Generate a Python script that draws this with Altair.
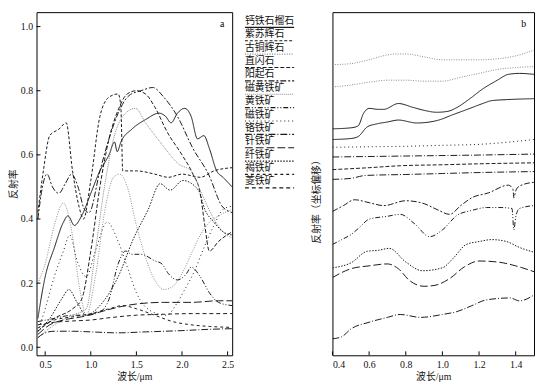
import altair as alt
import pandas as pd

# ---------------- legend / minerals ----------------
MINERALS = ["钙铁石榴石", "紫苏辉石", "古铜辉石", "直闪石", "阳起石", "磁黄铁矿",
            "黄铁矿", "磁铁矿", "铬铁矿", "针铁矿", "纤铁矿", "褐铁矿", "菱铁矿"]
MINERAL_STYLE = ["solid", "short", "finedot", "dash", "longshort", "densedot",
                 "dashdotdot", "sparsedot", "dashdotlong", "longdash", "dot", "sparsedash", "bolddash"]

DASH = {
    "solid": [1, 0], "short": [3, 2], "finedot": [1, 1.5], "dash": [4, 2],
    "longshort": [6, 2, 2, 2], "densedot": [1, 1], "dashdotdot": [5, 2, 1, 2, 1, 2],
    "sparsedot": [1, 3], "dashdotlong": [7, 2, 1, 2], "longdash": [8, 3],
    "dot": [1.5, 1.5], "sparsedash": [3, 3], "bolddash": [4, 3],
}
GREY_STYLES = {"finedot", "densedot"}

# ---------------- panel a (reflectance vs wavelength) ----------------
A_WL = {
    "钙铁石榴石": [0.42, 0.5, 0.6, 0.7, 0.75, 0.82, 0.9, 1.0, 1.1, 1.2, 1.26, 1.29, 1.33, 1.45, 1.6, 1.75, 1.82, 1.88, 1.95, 2.03, 2.1, 2.17, 2.24, 2.3, 2.38, 2.45, 2.55],
    "紫苏辉石": [0.42, 0.48, 0.55, 0.65, 0.73, 0.8, 0.87, 0.92, 1.0, 1.1, 1.2, 1.3, 1.33, 1.35, 1.5, 1.7, 1.85, 2.0, 2.2, 2.35, 2.55],
    "古铜辉石": [0.42, 0.5, 0.6, 0.7, 0.78, 0.88, 0.95, 1.05, 1.15, 1.25, 1.32, 1.4, 1.5, 1.6, 1.7, 1.8, 1.9, 2.0, 2.1, 2.2, 2.3, 2.4, 2.55],
    "直闪石": [0.42, 0.6, 0.8, 0.9, 1.0, 1.1, 1.2, 1.3, 1.4, 1.5, 1.6, 1.7, 1.84, 2.0, 2.12, 2.2, 2.25, 2.3, 2.4, 2.55],
    "阳起石": [0.42, 0.47, 0.52, 0.58, 0.65, 0.72, 0.79, 0.86, 0.93, 0.98, 1.1, 1.2, 1.3, 1.42, 1.55, 1.68, 1.8, 1.95, 2.12, 2.29, 2.44, 2.55],
    "磁黄铁矿": [0.42, 0.6, 0.8, 0.95, 1.05, 1.15, 1.25, 1.35, 1.49, 1.6, 1.76, 1.97, 2.1, 2.23, 2.35, 2.45, 2.55],
    "黄铁矿": [0.42, 0.6, 0.8, 0.95, 1.1, 1.2, 1.3, 1.38, 1.45, 1.55, 1.7, 1.78, 1.85, 1.95, 2.05, 2.1, 2.2, 2.3, 2.4, 2.55],
    "磁铁矿": [0.42, 0.5, 0.6, 0.7, 0.77, 0.85, 0.95, 1.05, 1.18, 1.3, 1.4, 1.5, 1.68, 1.83, 1.95, 2.03, 2.14, 2.24, 2.35, 2.45, 2.55],
    "铬铁矿": [0.42, 0.5, 0.6, 0.8, 1.0, 1.3, 1.6, 2.0, 2.3, 2.55],
    "针铁矿": [0.42, 0.55, 0.7, 0.9, 1.1, 1.3, 1.5, 1.8, 2.1, 2.4, 2.55],
    "纤铁矿": [0.42, 0.55, 0.68, 0.76, 0.85, 0.95, 1.1, 1.3, 1.47, 1.63, 1.76, 1.87, 2.01, 2.18, 2.25, 2.35, 2.45, 2.55],
    "褐铁矿": [0.42, 0.6, 0.8, 1.0, 1.2, 1.35, 1.5, 1.7, 1.9, 2.1, 2.3, 2.55],
    "菱铁矿": [0.42, 0.6, 0.8, 1.0, 1.2, 1.5, 1.8, 2.1, 2.55],
}
A_R = {
    "钙铁石榴石": [0.09, 0.22, 0.31, 0.39, 0.41, 0.38, 0.41, 0.48, 0.55, 0.60, 0.64, 0.61, 0.64, 0.68, 0.71, 0.73, 0.72, 0.70, 0.73, 0.745, 0.72, 0.65, 0.66, 0.62, 0.55, 0.53, 0.50],
    "紫苏辉石": [0.42, 0.55, 0.66, 0.68, 0.70, 0.55, 0.44, 0.40, 0.52, 0.72, 0.78, 0.79, 0.75, 0.55, 0.55, 0.54, 0.53, 0.54, 0.53, 0.55, 0.56],
    "古铜辉石": [0.20, 0.26, 0.38, 0.45, 0.38, 0.18, 0.10, 0.22, 0.42, 0.53, 0.54, 0.50, 0.38, 0.28, 0.21, 0.18, 0.19, 0.23, 0.29, 0.35, 0.39, 0.41, 0.43],
    "直闪石": [0.05, 0.09, 0.12, 0.15, 0.30, 0.50, 0.65, 0.74, 0.79, 0.80, 0.79, 0.75, 0.67, 0.60, 0.54, 0.48, 0.38, 0.30, 0.33, 0.36],
    "阳起石": [0.40, 0.50, 0.54, 0.50, 0.48, 0.51, 0.54, 0.50, 0.43, 0.42, 0.55, 0.65, 0.73, 0.785, 0.80, 0.81, 0.78, 0.72, 0.62, 0.54, 0.44, 0.42],
    "磁黄铁矿": [0.03, 0.07, 0.10, 0.12, 0.30, 0.50, 0.65, 0.72, 0.745, 0.70, 0.64, 0.57, 0.55, 0.47, 0.40, 0.36, 0.34],
    "黄铁矿": [0.08, 0.09, 0.10, 0.10, 0.11, 0.15, 0.26, 0.30, 0.29, 0.29, 0.27, 0.26, 0.23, 0.21, 0.23, 0.25, 0.22, 0.17, 0.14, 0.13],
    "磁铁矿": [0.05, 0.12, 0.22, 0.30, 0.35, 0.27, 0.22, 0.30, 0.39, 0.33, 0.25, 0.17, 0.11, 0.10, 0.14, 0.18, 0.24, 0.31, 0.38, 0.43, 0.44],
    "铬铁矿": [0.03, 0.045, 0.05, 0.05, 0.048, 0.045, 0.048, 0.052, 0.056, 0.058],
    "针铁矿": [0.04, 0.07, 0.085, 0.095, 0.11, 0.125, 0.135, 0.14, 0.14, 0.145, 0.145],
    "纤铁矿": [0.05, 0.09, 0.15, 0.18, 0.14, 0.10, 0.13, 0.22, 0.34, 0.43, 0.51, 0.49, 0.52, 0.49, 0.43, 0.39, 0.36, 0.35],
    "褐铁矿": [0.06, 0.085, 0.095, 0.105, 0.12, 0.13, 0.12, 0.10, 0.08, 0.07, 0.065, 0.062],
    "菱铁矿": [0.07, 0.078, 0.082, 0.085, 0.092, 0.10, 0.103, 0.105, 0.105],
}

# ---------------- panel b (offset reflectance) ----------------
B_KEYS = ["b1", "b2", "b3", "b4", "b5", "b6", "b7", "b8", "b9", "b10", "b11", "b12", "b13"]
B_STYLE = ["finedot", "finedot", "solid", "solid", "sparsedot", "dashdotlong", "dash",
           "dashdotlong", "longshort", "dashdotdot", "dot", "longdash", "dashdotlong"]
B_WL = {
    "b1": [0.4, 0.5, 0.6, 0.7, 0.75, 0.8, 0.9, 1.0, 1.1, 1.2, 1.3, 1.4, 1.5],
    "b2": [0.4, 0.5, 0.6, 0.7, 0.8, 0.9, 1.0, 1.1, 1.2, 1.3, 1.4, 1.5],
    "b3": [0.4, 0.5, 0.54, 0.57, 0.6, 0.65, 0.68, 0.76, 0.84, 0.9, 0.97, 1.03, 1.08, 1.15, 1.22, 1.3, 1.36, 1.42, 1.5],
    "b4": [0.4, 0.5, 0.54, 0.59, 0.64, 0.7, 0.76, 0.86, 0.93, 0.98, 1.05, 1.15, 1.22, 1.27, 1.35, 1.5],
    "b5": [0.4, 0.6, 0.8, 1.0, 1.2, 1.4, 1.5],
    "b6": [0.4, 0.8, 1.2, 1.5],
    "b7": [0.4, 0.6, 0.77, 1.0, 1.2, 1.5],
    "b8": [0.4, 0.5, 0.58, 0.8, 1.0, 1.2, 1.5],
    "b9": [0.4, 0.46, 0.52, 0.6, 0.68, 0.8, 0.9, 0.97, 1.04, 1.1, 1.16, 1.25, 1.36, 1.385, 1.39, 1.4, 1.42, 1.5],
    "b10": [0.4, 0.45, 0.5, 0.55, 0.6, 0.7, 0.77, 0.85, 0.93, 1.0, 1.08, 1.16, 1.24, 1.32, 1.38, 1.39, 1.4, 1.42, 1.5],
    "b11": [0.4, 0.5, 0.59, 0.65, 0.71, 0.8, 0.89, 1.0, 1.06, 1.13, 1.2, 1.27, 1.35, 1.42, 1.5],
    "b12": [0.4, 0.5, 0.6, 0.7, 0.76, 0.82, 0.9, 0.96, 1.04, 1.12, 1.2, 1.3, 1.4, 1.5],
    "b13": [0.4, 0.45, 0.5, 0.6, 0.7, 0.77, 0.88, 1.0, 1.08, 1.16, 1.24, 1.37, 1.42, 1.5],
}
B_R = {
    "b1": [2.99, 3.00, 3.04, 3.09, 3.10, 3.10, 3.07, 3.04, 3.04, 3.04, 3.05, 3.08, 3.14],
    "b2": [2.76, 2.78, 2.81, 2.83, 2.83, 2.82, 2.82, 2.86, 2.90, 2.94, 2.96, 2.97],
    "b3": [2.33, 2.34, 2.36, 2.49, 2.54, 2.53, 2.53, 2.59, 2.55, 2.52, 2.50, 2.51, 2.55, 2.64, 2.74, 2.83, 2.89, 2.90, 2.89],
    "b4": [2.22, 2.23, 2.25, 2.35, 2.38, 2.40, 2.42, 2.39, 2.40, 2.42, 2.47, 2.54, 2.59, 2.62, 2.63, 2.64],
    "b5": [2.14, 2.145, 2.15, 2.16, 2.17, 2.20, 2.22],
    "b6": [2.04, 2.05, 2.06, 2.07],
    "b7": [1.91, 1.93, 1.95, 1.96, 1.97, 1.98],
    "b8": [1.81, 1.82, 1.85, 1.86, 1.87, 1.88, 1.89],
    "b9": [1.48, 1.54, 1.60, 1.57, 1.54, 1.59, 1.56, 1.50, 1.45, 1.54, 1.62, 1.67, 1.75, 1.71, 1.62, 1.69, 1.74, 1.78],
    "b10": [1.14, 1.19, 1.24, 1.32, 1.40, 1.43, 1.45, 1.35, 1.22, 1.29, 1.44, 1.49, 1.52, 1.52, 1.51, 1.29, 1.42, 1.51, 1.54],
    "b11": [0.90, 0.95, 1.07, 1.08, 1.10, 0.96, 0.87, 0.90, 1.00, 1.14, 1.17, 1.19, 1.17, 1.11, 1.06],
    "b12": [0.80, 0.89, 0.92, 0.94, 0.89, 0.77, 0.71, 0.72, 0.79, 0.91, 0.97, 0.96, 0.92, 0.86],
    "b13": [0.17, 0.19, 0.27, 0.34, 0.39, 0.42, 0.39, 0.42, 0.45, 0.51, 0.57, 0.59, 0.56, 0.62],
}

XT_A = [0.5, 1.0, 1.5, 2.0, 2.5]
YT_A = [0.0, 0.2, 0.4, 0.6, 0.8, 1.0]
XT_B = [0.4, 0.6, 0.8, 1.0, 1.2, 1.4]

# ---------------- build tables ----------------
def long_table(wls, rs):
    rows = []
    for k in wls:
        for i, (w, r) in enumerate(zip(wls[k], rs[k])):
            rows.append({"key": k, "wl": w, "r": r, "i": i})
    return pd.DataFrame(rows)

dfa = long_table(A_WL, A_R)
dfb = long_table(B_WL, B_R)

all_keys = MINERALS + B_KEYS
all_styles = MINERAL_STYLE + B_STYLE
dash_scale = alt.Scale(domain=all_keys, range=[DASH[s] for s in all_styles])
color_scale = alt.Scale(domain=all_keys,
                        range=["#8a8a8a" if s in GREY_STYLES else "#1a1a1a" for s in all_styles])

SERIF = "Liberation Serif"
MIXED = "Liberation Serif, Noto Sans CJK SC"

WA, WB, H, WL_ = 199, 205, 349, 75

# ---------------- panel a ----------------
xa = alt.Scale(domain=[0.405, 2.55], nice=False, zero=False)
ya = alt.Scale(domain=[-0.025, 1.045], nice=False, zero=False)
ax_xa = alt.Axis(values=XT_A, format=".1f", title="波长/μm", ticks=False, grid=False,
                 domain=False, labelPadding=4, titlePadding=3)
ax_ya = alt.Axis(values=YT_A, format=".1f", title="反射率", ticks=False, grid=False,
                 domain=False, labelPadding=4, titlePadding=2)

lines_a = alt.Chart(dfa).mark_line(strokeWidth=1.0, interpolate="monotone", clip=True).encode(
    x=alt.X("wl:Q", scale=xa, axis=ax_xa),
    y=alt.Y("r:Q", scale=ya, axis=ax_ya),
    strokeDash=alt.StrokeDash("key:N", scale=dash_scale, legend=None),
    color=alt.Color("key:N", scale=color_scale, legend=None),
    order="i:Q",
)
xt_a = alt.Chart(pd.DataFrame({"wl": XT_A})).mark_rule(color="black").encode(
    x=alt.X("wl:Q", scale=xa, axis=ax_xa), y=alt.value(H), y2=alt.value(H - 4))
yt_a = alt.Chart(pd.DataFrame({"r": YT_A})).mark_rule(color="black").encode(
    y=alt.Y("r:Q", scale=ya, axis=ax_ya), x=alt.value(0), x2=alt.value(4))
lab_a = alt.Chart(pd.DataFrame({"s": ["a"]})).mark_text(font=SERIF, fontSize=10, align="right").encode(
    text="s:N", x=alt.value(WA - 8), y=alt.value(12))
panel_a = alt.layer(lines_a, xt_a, yt_a, lab_a).properties(width=WA, height=H)

# ---------------- legend ----------------
leg = pd.DataFrame({"name": MINERALS, "idx": list(range(len(MINERALS)))})
ly = alt.Scale(domain=[-0.88, 24.78], reverse=True, nice=False, zero=False)
leg_text = alt.Chart(leg).mark_text(align="left", baseline="alphabetic", fontSize=10,
                                    font="Noto Sans CJK SC", color="#111").encode(
    x=alt.value(9), y=alt.Y("idx:Q", scale=ly, axis=None), text="name:N")
leg_rule = alt.Chart(leg).mark_rule(strokeWidth=1.2, yOffset=3.5).encode(
    x=alt.value(9), x2=alt.value(59), y=alt.Y("idx:Q", scale=ly, axis=None),
    strokeDash=alt.StrokeDash("name:N", scale=dash_scale, legend=None),
    color=alt.Color("name:N", scale=color_scale, legend=None))
legend = alt.layer(leg_rule, leg_text).properties(
    width=WL_, height=H, view=alt.ViewBackground(stroke="transparent"))

# ---------------- panel b ----------------
xb = alt.Scale(domain=[0.4, 1.5], nice=False, zero=False)
yb = alt.Scale(domain=[0.0, 3.53], nice=False, zero=False)
ax_xb = alt.Axis(values=XT_B, format=".1f", title="波长/μm", ticks=False, grid=False,
                 domain=False, labelPadding=4, titlePadding=3)
ax_yb = alt.Axis(title="反射率（坐标偏移）", labels=False, ticks=False, grid=False,
                 domain=False, titlePadding=11, titleY=190)
lines_b = alt.Chart(dfb).mark_line(strokeWidth=1.0, interpolate="monotone", clip=True).encode(
    x=alt.X("wl:Q", scale=xb, axis=ax_xb),
    y=alt.Y("r:Q", scale=yb, axis=ax_yb),
    strokeDash=alt.StrokeDash("key:N", scale=dash_scale, legend=None),
    color=alt.Color("key:N", scale=color_scale, legend=None),
    order="i:Q",
)
xt_b = alt.Chart(pd.DataFrame({"wl": XT_B})).mark_rule(color="black").encode(
    x=alt.X("wl:Q", scale=xb, axis=ax_xb), y=alt.value(H), y2=alt.value(H - 4))
lab_b = alt.Chart(pd.DataFrame({"s": ["b"]})).mark_text(font=SERIF, fontSize=10, align="right").encode(
    text="s:N", x=alt.value(WB - 8), y=alt.value(12))
panel_b = alt.layer(lines_b, xt_b, lab_b).properties(width=WB, height=H)

chart = alt.hconcat(panel_a, legend, panel_b, spacing=0).resolve_scale(
    x="independent", y="independent"
).properties(padding=0).configure_view(
    stroke="black", strokeWidth=1
).configure_axis(
    labelFont=SERIF, labelFontSize=10, labelColor="#111",
    titleFont=MIXED, titleFontSize=10, titleFontWeight="normal", titleColor="#111",
)

chart.save("out.html", embed_options={"renderer": "svg", "actions": False})
